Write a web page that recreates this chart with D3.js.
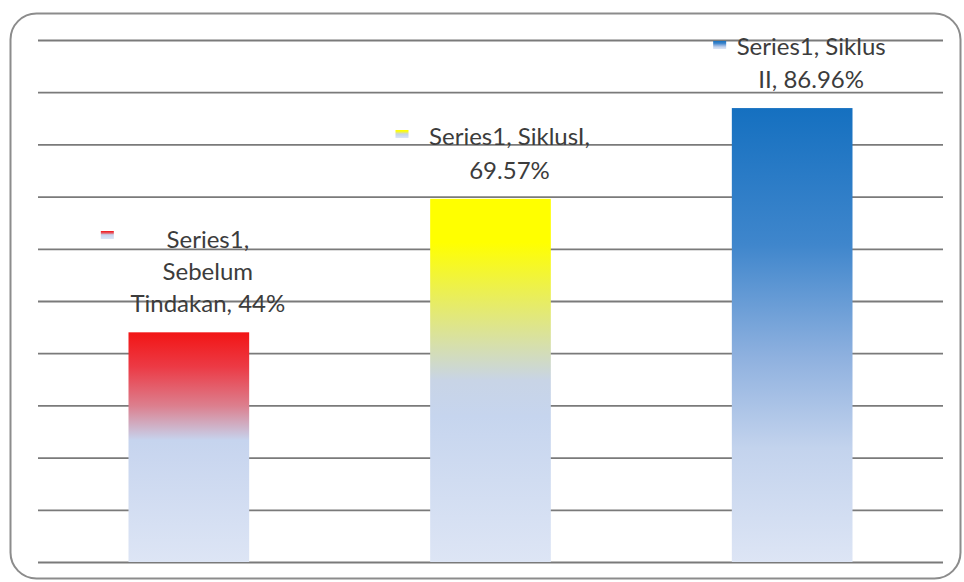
<!DOCTYPE html>
<html>
<head>
<meta charset="utf-8">
<script src="https://cdn.jsdelivr.net/npm/d3@7"></script>
<style>
  html, body { margin: 0; padding: 0; background: #ffffff; }
  svg { display: block; }
</style>
</head>
<body>
<svg id="chart" width="964" height="582"></svg>
<script>
// ---- data ----
const categories = ["Sebelum Tindakan", "Siklus I", "Siklus II"];
const seriesName = "Series1";
const values = [44, 69.57, 86.96];
const valueLabels = ["44%", "69.57%", "86.96%"];
const labelLines = [
  ["Series1,", "Sebelum", "Tindakan, 44%"],
  ["Series1, SiklusI,", "69.57%"],
  ["Series1, Siklus", "II, 86.96%"]
];
const barColors = ["#f21515", "#ffff00", "#1570c0"];
const yTicks = [0, 10, 20, 30, 40, 50, 60, 70, 80, 90, 100];

// ---- layout ----
const W = 964, H = 582;
const plot = { left: 38, right: 943, top: 40, bottom: 562 };
const svg = d3.select("#chart");

// frame
svg.append("rect")
  .attr("x", 10.5).attr("y", 13.5)
  .attr("width", 950).attr("height", 565)
  .attr("rx", 26).attr("ry", 26)
  .attr("fill", "#ffffff")
  .attr("stroke", "#8c8c8c")
  .attr("stroke-width", 2);

const x = d3.scaleBand()
  .domain(categories)
  .range([plot.left, plot.right])
  .paddingInner(0.6)
  .paddingOuter(0.3);

const y = d3.scaleLinear()
  .domain([0, 100])
  .range([plot.bottom, plot.top]);

// gridlines via axis
const grid = svg.append("g")
  .attr("transform", `translate(${plot.left},0)`)
  .call(d3.axisLeft(y).tickValues(yTicks).tickSize(-(plot.right - plot.left)).tickFormat(""));
grid.select(".domain").remove();
grid.selectAll(".tick line")
  .attr("stroke", "#7a7a7a")
  .attr("stroke-width", 1.8);

// gradients
const defs = svg.append("defs");
const stopsFor = (c, i) => {
  if (i === 2) return [[0, c], [0.3, "#3f86cc"], [0.55, "#8fb1df"], [0.75, "#c3d3ed"], [1, "#dde5f5"]];
  if (i === 1) return [[0, c], [0.12, c], [0.5, "#c8d4e6"], [0.6, "#c6d5ee"], [1, "#dde5f5"]];
  return [[0, c], [0.15, "#ec3a45"], [0.32, "#dc7f8e"], [0.47, "#c6d4ee"], [1, "#dde5f5"]];
};
barColors.forEach((c, i) => {
  const g = defs.append("linearGradient")
    .attr("id", "grad" + i)
    .attr("x1", 0).attr("y1", 0).attr("x2", 0).attr("y2", 1);
  stopsFor(c, i).forEach(s => g.append("stop").attr("offset", s[0]).attr("stop-color", s[1]));
});

// bars
svg.append("g").selectAll("rect")
  .data(values)
  .join("rect")
  .attr("x", (d, i) => x(categories[i]))
  .attr("y", d => y(d))
  .attr("width", x.bandwidth())
  .attr("height", d => y(0) - y(d))
  .attr("fill", (d, i) => `url(#grad${i})`);

// data labels
const labelOffsets = [
  { dx: 19, y0: 248, gap: 32, keyDx: -107, keyDy: -17 },
  { dx: 19, y0: 145, gap: 34, keyDx: -114, keyDy: -15 },
  { dx: 19, y0: 55, gap: 33, keyDx: -98, keyDy: -14 }
];
const lab = svg.append("g");
values.forEach((v, i) => {
  const o = labelOffsets[i];
  const cx = x(categories[i]) + x.bandwidth() / 2 + o.dx;
  const t = lab.append("text")
    .attr("font-family", "Lato, 'Open Sans', sans-serif")
    .attr("font-size", 24)
    .attr("fill", "#3c3c3c")
    .attr("text-anchor", "middle");
  labelLines[i].forEach((ln, k) => {
    t.append("tspan").attr("x", cx).attr("y", o.y0 + k * o.gap).text(ln);
  });
  // legend key
  lab.append("rect")
    .attr("x", cx + o.keyDx)
    .attr("y", o.y0 + o.keyDy)
    .attr("width", 13).attr("height", 8)
    .attr("fill", `url(#grad${i})`);
});
</script>
</body>
</html>
